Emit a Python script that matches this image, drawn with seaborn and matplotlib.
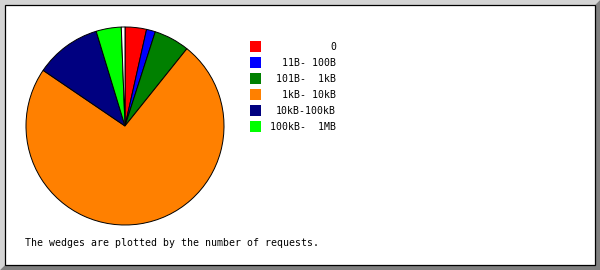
import matplotlib
matplotlib.use("Agg")
import matplotlib.pyplot as plt
import seaborn as sns
from matplotlib.patches import Polygon, Rectangle

sns.set_theme(style="white")
plt.rcParams['font.family'] = ['DejaVu Sans Mono']

categories = ["0", "11B- 100B", "101B-  1kB", "1kB- 10kB", "10kB-100kB", "100kB-  1MB"]
shares = [3.5, 1.45, 5.8, 73.75, 10.8, 4.1]
remainder = [0.6]
colors = ["#ff0000", "#0000ff", "#008000", "#ff8000", "#000080", "#00ff00"]
note = "The wedges are plotted by the number of requests."

W, H = 600, 270
fig = plt.figure(figsize=(6, 2.7), dpi=100)
fig.patch.set_facecolor("white")

# frame / bevel
bg = fig.add_axes([0, 0, 1, 1], zorder=0)
bg.set_xlim(0, W)
bg.set_ylim(H, 0)
bg.axis("off")
bg.add_patch(Polygon([(0, 0), (W, 0), (W - 5, 5), (5, 5), (5, H - 5), (0, H)],
                     closed=True, facecolor="#d4d4d4", edgecolor="none"))
bg.add_patch(Polygon([(W, 0), (W, H), (0, H), (5, H - 5), (W - 5, H - 5), (W - 5, 5)],
                     closed=True, facecolor="#808080", edgecolor="none"))
bg.add_patch(Rectangle((4.5, 4.5), W - 9.5, H - 10, facecolor="white",
                       edgecolor="black", linewidth=0.9))

# pie
ax = fig.add_axes([25 / W, 1 - 226 / H, 200 / W, 200 / H], zorder=1)
vals = shares + remainder
cols = colors + ["white"]
ax.pie(vals, colors=cols, startangle=90, counterclock=False, radius=1,
       wedgeprops=dict(edgecolor="black", linewidth=0.7))
ax.set_xlim(-1.01, 1.01)
ax.set_ylim(-1.01, 1.01)
ax.set_aspect("auto")
ax.axis("off")

# legend
for i, (lab, c) in enumerate(zip(categories, colors)):
    yc = 46 + i * 16
    bg.add_patch(Rectangle((250, yc - 5), 11, 11, facecolor=c, edgecolor="none", zorder=3))
    bg.text(336, yc + 1, lab, ha="right", va="center", fontsize=7.15, color="black", zorder=3)

bg.text(25, 243, note, ha="left", va="center", fontsize=7.15, color="black", zorder=3)

fig.savefig("out.png", dpi=100)
